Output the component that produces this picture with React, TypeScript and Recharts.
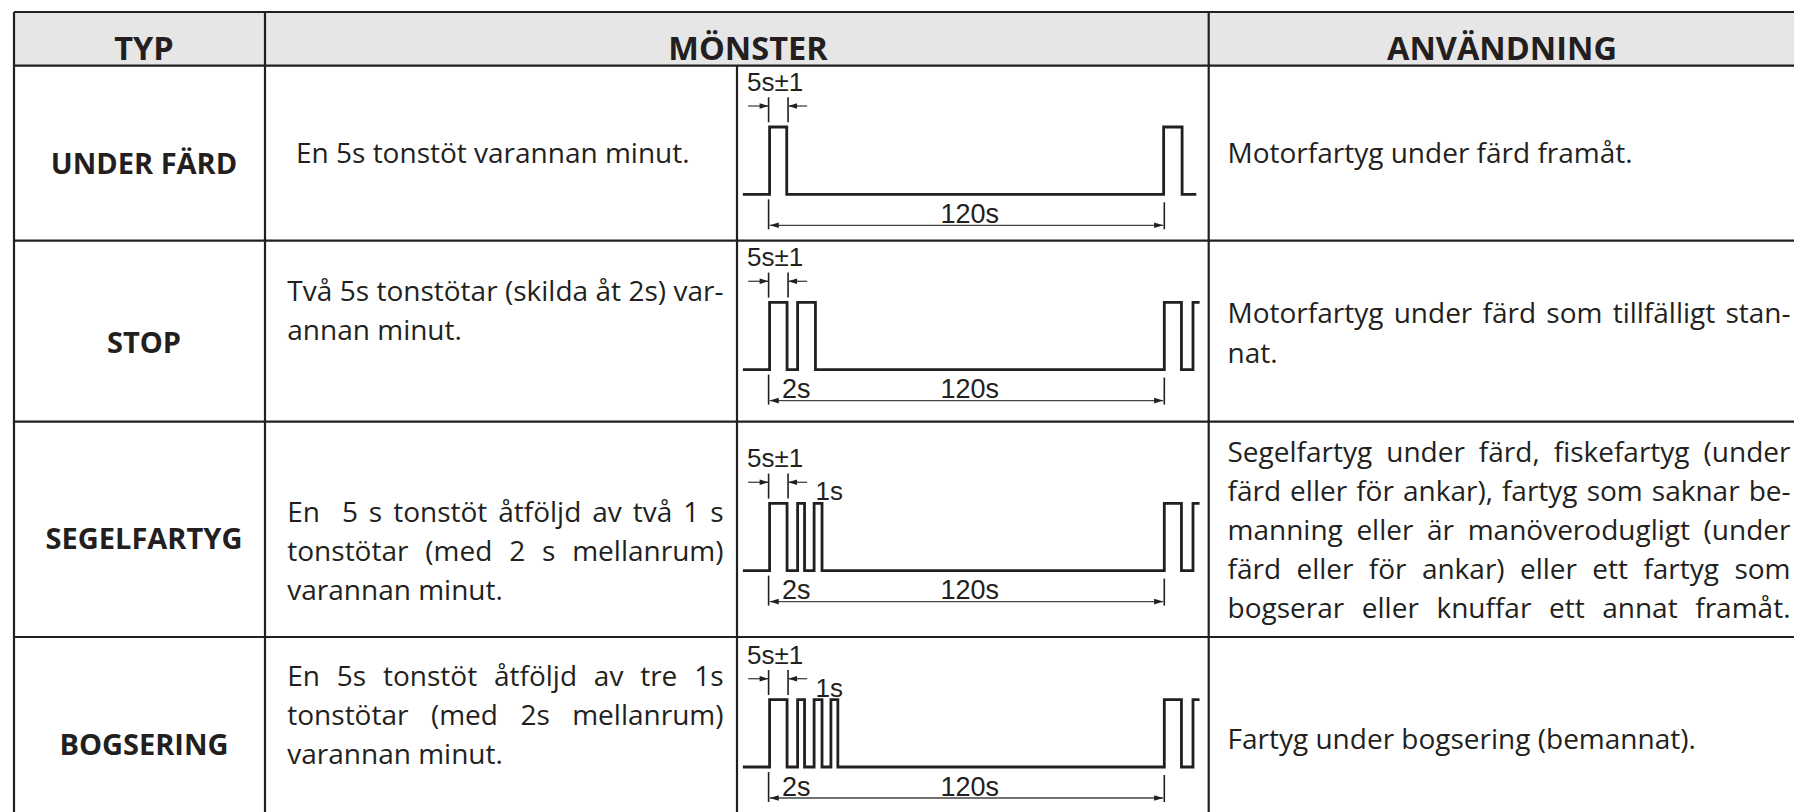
import React, { useLayoutEffect, useRef, useState } from 'react';
import { LineChart, Line, XAxis, YAxis, ReferenceLine, ReferenceDot } from 'recharts';

// ---------------- data ----------------
const HEADERS = ['TYP', 'MÖNSTER', 'ANVÄNDNING'];
const TYPES = ['UNDER FÄRD', 'STOP', 'SEGELFARTYG', 'BOGSERING'];
const PATTERN_TEXT: string[][] = [
  ['En 5s tonstöt varannan minut.'],
  ['Två 5s tonstötar (skilda åt 2s) var-', 'annan minut.'],
  ['En  5 s tonstöt åtföljd av två 1 s', 'tonstötar (med 2 s mellanrum)', 'varannan minut.'],
  ['En 5s tonstöt åtföljd av tre 1s', 'tonstötar (med 2s mellanrum)', 'varannan minut.'],
];
const USAGE_TEXT: string[][] = [
  ['Motorfartyg under färd framåt.'],
  ['Motorfartyg under färd som tillfälligt stan-', 'nat.'],
  [
    'Segelfartyg under färd, fiskefartyg (under',
    'färd eller för ankar), fartyg som saknar be-',
    'manning eller är manöverodugligt (under',
    'färd eller för ankar) eller ett fartyg som',
    'bogserar eller knuffar ett annat framåt.',
  ],
  ['Fartyg under bogsering (bemannat).'],
];

// signal edges in schematic seconds (level toggles at each edge)
const TRACE_START = -7.8;
const EDGES_UNDER_FARD = [0.3, 5.5, 119.8, 125.4];
const EDGES_STOP = [0.3, 5.6, 8.8, 14.2, 120.0, 125.2, 128.7];
const EDGES_SEGELFARTYG = [0.3, 5.6, 8.8, 10.9, 13.8, 16.2, 120.0, 125.2, 128.7];
const EDGES_BOGSERING = [0.3, 5.6, 8.8, 10.9, 13.8, 16.2, 18.9, 21.0, 120.0, 125.2, 128.7];
const TRACE_END = [129.7, 130.7, 130.7, 130.7];
const PERIOD_DIM = [0, 120];
const PULSE_DIM = [0, 5.9];
const LABEL_PULSE = '5s±1';
const LABEL_SHORT = '1s';
const LABEL_GAP = '2s';
const LABEL_PERIOD = '120s';

// ---------------- helpers ----------------
function buildWave(edges: number[], end: number) {
  const pts: { t: number; v: number }[] = [{ t: TRACE_START, v: 0 }];
  let v = 0;
  edges.forEach((e) => {
    pts.push({ t: e, v });
    v = 1 - v;
    pts.push({ t: e, v });
  });
  pts.push({ t: end, v });
  return pts;
}
const WAVES = [
  buildWave(EDGES_UNDER_FARD, TRACE_END[0]),
  buildWave(EDGES_STOP, TRACE_END[1]),
  buildWave(EDGES_SEGELFARTYG, TRACE_END[2]),
  buildWave(EDGES_BOGSERING, TRACE_END[3]),
];

const INK = '#231f20';
const BODY_FONT = "'Open Sans', 'Noto Sans', sans-serif";
const DIAG_FONT = "'Liberation Sans', Arial, sans-serif";

// layout
const X0 = 14;
const XC1 = 265;
const XC2 = 737;
const XC3 = 1208.7;
const XR = 1797;
const Y0 = 12;
const YH = 65.7;
const ROW_TOPS = [65.7, 240.7, 421.7, 637];
const ROW_BOTTOMS = [240.7, 421.7, 637, 812];
const BASE_OFF = [128.3, 128.6, 148.6, 130];

function JLine(props: { x: number; y: number; w: number; text: string; justify: boolean; size: number }) {
  const ref = useRef<SVGTextElement>(null);
  const [ws, setWs] = useState(0);
  useLayoutEffect(() => {
    if (!props.justify || !ref.current) return;
    const natural = ref.current.getComputedTextLength();
    const spaces = (props.text.match(/ /g) || []).length;
    if (spaces > 0) setWs((props.w - natural) / spaces);
  }, []);
  return (
    <text
      ref={ref}
      x={props.x}
      y={props.y}
      fill={INK}
      style={{ fontFamily: BODY_FONT, fontSize: props.size, wordSpacing: ws, whiteSpace: 'pre' }}
    >
      {props.text}
    </text>
  );
}

const arrowShape = (heads: 'end' | 'both') => (p: any) => {
  const { x1, y1, x2, y2 } = p;
  const dx = x2 - x1;
  const dy = y2 - y1;
  const len = Math.hypot(dx, dy) || 1;
  const ux = dx / len;
  const uy = dy / len;
  const L = 9;
  const W = 2.8;
  const head = (tx: number, ty: number, dx0: number, dy0: number) =>
    `${tx},${ty} ${tx - dx0 * L - dy0 * W},${ty - dy0 * L + dx0 * W} ${tx - dx0 * L + dy0 * W},${ty - dy0 * L - dx0 * W}`;
  return (
    <g>
      <line x1={x1} y1={y1} x2={x2} y2={y2} stroke="#444" strokeWidth={1.3} />
      <polygon points={head(x2, y2, ux, uy)} fill={INK} />
      {heads === 'both' && <polygon points={head(x1, y1, -ux, -uy)} fill={INK} />}
    </g>
  );
};

const textShape = (label: string, anchor: 'start' | 'middle', size: number) => (p: any) => (
  <text x={p.cx} y={p.cy} textAnchor={anchor} fill={INK} style={{ fontFamily: DIAG_FONT, fontSize: size }}>
    {label}
  </text>
);

function Pattern({ row }: { row: number }) {
  const K = 3.2975;
  const left = XC2;
  const width = 472;
  const top = ROW_TOPS[row];
  const height = ROW_BOTTOMS[row] - top;
  const xmin = (left - 768.6) / K;
  const xmax = xmin + width / K;
  const H = 67.3;
  const ymax = BASE_OFF[row] / H;
  const ymin = ymax - height / H;
  const u = (px: number) => px / H;
  const tick = { stroke: INK, strokeWidth: 1.6, ifOverflow: 'visible' as const };
  return (
    <div style={{ position: 'absolute', left, top, width, height, zIndex: 2 }}>
      <LineChart width={width} height={height} data={WAVES[row]} margin={{ top: 0, right: 0, bottom: 0, left: 0 }}>
        <XAxis type="number" dataKey="t" domain={[xmin, xmax]} hide allowDataOverflow />
        <YAxis type="number" domain={[ymin, ymax]} hide allowDataOverflow />
        <Line
          dataKey="v"
          type="linear"
          stroke={INK}
          strokeWidth={2.8}
          strokeLinejoin="miter"
          dot={false}
          isAnimationActive={false}
        />
        {/* pulse width dimension */}
        <ReferenceLine segment={[{ x: PULSE_DIM[0], y: 1 + u(4.7) }, { x: PULSE_DIM[0], y: 1 + u(29.7) }]} {...tick} />
        <ReferenceLine segment={[{ x: PULSE_DIM[1], y: 1 + u(4.7) }, { x: PULSE_DIM[1], y: 1 + u(29.7) }]} {...tick} />
        <ReferenceLine
          segment={[{ x: PULSE_DIM[0] - 6.2, y: 1 + u(21) }, { x: PULSE_DIM[0], y: 1 + u(21) }]}
          ifOverflow="visible"
          shape={arrowShape('end')}
        />
        <ReferenceLine
          segment={[{ x: PULSE_DIM[1] + 5.8, y: 1 + u(21) }, { x: PULSE_DIM[1], y: 1 + u(21) }]}
          ifOverflow="visible"
          shape={arrowShape('end')}
        />
        <ReferenceDot x={-6.55} y={1 + u(36)} r={0} ifOverflow="visible" shape={textShape(LABEL_PULSE, 'start', 26)} />
        {row >= 2 && (
          <ReferenceDot x={14.2} y={1 + u(3)} r={0} ifOverflow="visible" shape={textShape(LABEL_SHORT, 'start', 26)} />
        )}
        {/* period dimension */}
        <ReferenceLine segment={[{ x: PERIOD_DIM[0], y: -u(5) }, { x: PERIOD_DIM[0], y: -u(35) }]} {...tick} />
        <ReferenceLine segment={[{ x: PERIOD_DIM[1], y: -u(8) }, { x: PERIOD_DIM[1], y: -u(35) }]} {...tick} />
        <ReferenceLine
          segment={[{ x: PERIOD_DIM[0] + 0.35, y: -u(31) }, { x: PERIOD_DIM[1] - 0.35, y: -u(31) }]}
          ifOverflow="visible"
          shape={arrowShape('both')}
        />
        <ReferenceDot x={61} y={-u(28.5)} r={0} ifOverflow="visible" shape={textShape(LABEL_PERIOD, 'middle', 27)} />
        {row >= 1 && (
          <ReferenceDot x={4.06} y={-u(28.5)} r={0} ifOverflow="visible" shape={textShape(LABEL_GAP, 'start', 27)} />
        )}
      </LineChart>
    </div>
  );
}

const PAT_BASELINES = [[163.3], [301, 340], [521.7, 560.7, 599.7], [686, 725, 764]];
const PAT_X = [296, 287.3, 287.3, 287.3];
const USE_BASELINES = [[162.7], [322.7, 362.7], [462, 501, 540, 579, 618], [749]];
const TYPE_BASELINES = [174, 353.3, 548.5, 755];

export default function App() {
  const bodySize = 28;
  return (
    <div style={{ position: 'absolute', left: 0, top: 0, width: 1794, height: 812, overflow: 'hidden', background: '#fff' }}>
      <svg width={1794} height={812} style={{ position: 'absolute', left: 0, top: 0, zIndex: 1 }}>
        <rect x={X0} y={Y0} width={XR - X0} height={YH - Y0} fill="#e6e6e6" />
        {[Y0, YH, ...ROW_BOTTOMS.slice(0, 3)].map((y, i) => (
          <line key={'h' + i} x1={X0} x2={XR} y1={y} y2={y} stroke={INK} strokeWidth={2.2} />
        ))}
        {[X0, XC1, XC3, XR].map((x, i) => (
          <line key={'v' + i} x1={x} x2={x} y1={Y0} y2={830} stroke={INK} strokeWidth={2.2} />
        ))}
        <line x1={XC2} x2={XC2} y1={YH} y2={830} stroke={INK} strokeWidth={2.2} />
        {/* headers */}
        {[144, 748, 1502].map((cx, i) => (
          <text
            key={'hd' + i}
            x={cx}
            y={60}
            textAnchor="middle"
            fill={INK}
            style={{ fontFamily: BODY_FONT, fontWeight: 700, fontSize: 32.5 }}
          >
            {HEADERS[i]}
          </text>
        ))}
        {TYPES.map((t, i) => (
          <text
            key={'ty' + i}
            x={144}
            y={TYPE_BASELINES[i]}
            textAnchor="middle"
            fill={INK}
            style={{ fontFamily: BODY_FONT, fontWeight: 700, fontSize: 29 }}
          >
            {t}
          </text>
        ))}
        {PATTERN_TEXT.map((lines, r) =>
          lines.map((ln, j) => (
            <JLine
              key={'p' + r + '-' + j}
              x={PAT_X[r]}
              y={PAT_BASELINES[r][j]}
              w={723.5 - PAT_X[r]}
              text={ln}
              justify={j < lines.length - 1}
              size={bodySize}
            />
          ))
        )}
        {USAGE_TEXT.map((lines, r) =>
          lines.map((ln, j) => (
            <JLine
              key={'u' + r + '-' + j}
              x={1227.5}
              y={USE_BASELINES[r][j]}
              w={1790.5 - 1227.5}
              text={ln}
              justify={r === 2 || j < lines.length - 1}
              size={bodySize}
            />
          ))
        )}
      </svg>
      {[0, 1, 2, 3].map((r) => (
        <Pattern key={r} row={r} />
      ))}
    </div>
  );
}
